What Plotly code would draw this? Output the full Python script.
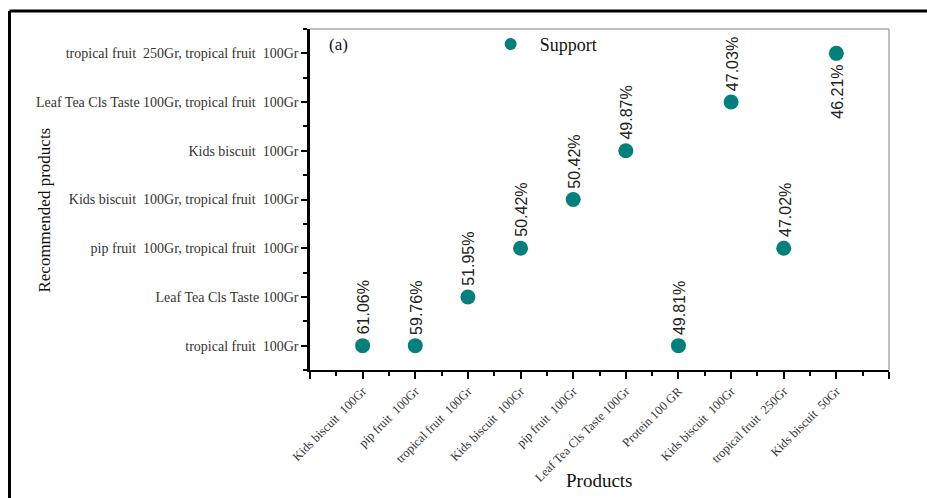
import plotly.graph_objects as go

products = ["Kids biscuit  100Gr", "pip fruit  100Gr", "tropical fruit  100Gr", "Kids biscuit  100Gr",
            "pip fruit  100Gr", "Leaf Tea Cls Taste 100Gr", "Protein 100 GR", "Kids biscuit  100Gr",
            "tropical fruit  250Gr", "Kids biscuit  50Gr"]
recommended_levels = ["tropical fruit  100Gr", "Leaf Tea Cls Taste 100Gr", "pip fruit  100Gr, tropical fruit  100Gr",
                      "Kids biscuit  100Gr, tropical fruit  100Gr", "Kids biscuit  100Gr",
                      "Leaf Tea Cls Taste 100Gr, tropical fruit  100Gr", "tropical fruit  250Gr, tropical fruit  100Gr"]
recommended = [0, 0, 1, 2, 3, 4, 0, 5, 2, 6]
support = [61.06, 59.76, 51.95, 50.42, 50.42, 49.87, 49.81, 47.03, 47.02, 46.21]

xpos = list(range(1, len(products) + 1))
teal = "#057f7c"
serif = "Liberation Serif, Times New Roman, serif"

fig = go.Figure()
fig.add_trace(go.Scatter(
    x=xpos, y=recommended, mode="markers", name="\u2002Support",
    marker=dict(color=teal, size=15, line=dict(width=0)),
    cliponaxis=False,
))

annotations = []
for x, y, s in zip(xpos, recommended, support):
    top = y == len(recommended_levels) - 1
    annotations.append(dict(
        x=x, y=y, xref="x", yref="y", text=f"{s:.2f}%", showarrow=False,
        textangle=-90, font=dict(family="Liberation Sans, Arial, sans-serif", size=16, color="#222"),
        yanchor="top" if top else "bottom", xanchor="center",
        yshift=-9 if top else 9, xshift=1,
    ))
annotations.append(dict(x=0.05, y=0.955, xref="paper", yref="paper", text="(a)", showarrow=False,
                        font=dict(family=serif, size=17, color="#111"), xanchor="center", yanchor="middle"))
annotations.append(dict(x=-0.458, y=0.47, xref="paper", yref="paper", text="Recommended products",
                        showarrow=False, textangle=-90, xanchor="center", yanchor="middle",
                        font=dict(family=serif, size=17, color="#111")))
annotations.append(dict(x=0.5, y=-0.323, xref="paper", yref="paper", text="Products",
                        showarrow=False, xanchor="center", yanchor="middle",
                        font=dict(family=serif, size=19, color="#111")))

shapes = [
    dict(type="line", xref="paper", yref="paper", x0=0, x1=1, y0=1, y1=1, line=dict(color="#a8a8a8", width=1.5)),
    dict(type="line", xref="paper", yref="paper", x0=1, x1=1, y0=0, y1=1, line=dict(color="#a8a8a8", width=1.5)),
    dict(type="line", xref="paper", yref="paper", x0=-0.519, x1=1.2, y0=1.053, y1=1.053, line=dict(color="black", width=3)),
    dict(type="line", xref="paper", yref="paper", x0=-0.519, x1=-0.519, y0=1.053, y1=-0.5, line=dict(color="black", width=3)),
]

fig.update_layout(
    width=927, height=498,
    margin=dict(l=310, r=38, t=29, b=128),
    paper_bgcolor="white", plot_bgcolor="white",
    font=dict(family=serif, color="#222"),
    showlegend=True,
    legend=dict(x=0.312, y=0.955, xanchor="left", yanchor="middle", bgcolor="rgba(0,0,0,0)",
                font=dict(family=serif, size=18, color="#111"), itemsizing="constant"),
    annotations=annotations, shapes=shapes,
    xaxis=dict(
        range=[0, 11], tickmode="array", tickvals=list(range(0, 12)),
        ticktext=[""] + products + [""], tickangle=-45, automargin=False,
        tickfont=dict(family=serif, size=12.5, color="#333"),
        showgrid=False, zeroline=False, showline=True, linecolor="black", linewidth=2,
        ticks="outside", ticklen=7, tickwidth=2, tickcolor="black",
        minor=dict(tickmode="linear", tick0=0.5, dtick=1, ticks="outside", ticklen=4, tickwidth=2, tickcolor="black"),
    ),
    yaxis=dict(
        range=[-0.5, 6.5], tickmode="array", tickvals=list(range(len(recommended_levels))),
        ticktext=recommended_levels, automargin=False,
        tickfont=dict(family=serif, size=14, color="#333"),
        showgrid=False, zeroline=False, showline=True, linecolor="black", linewidth=2.5,
        ticks="outside", ticklen=6, tickwidth=2, tickcolor="black",
        minor=dict(tickmode="linear", tick0=0.5, dtick=1, ticks="outside", ticklen=4, tickwidth=2, tickcolor="black"),
    ),
)

fig.write_html("out.html", config={"displayModeBar": False},
               post_script="document.body.style.margin='0';")
